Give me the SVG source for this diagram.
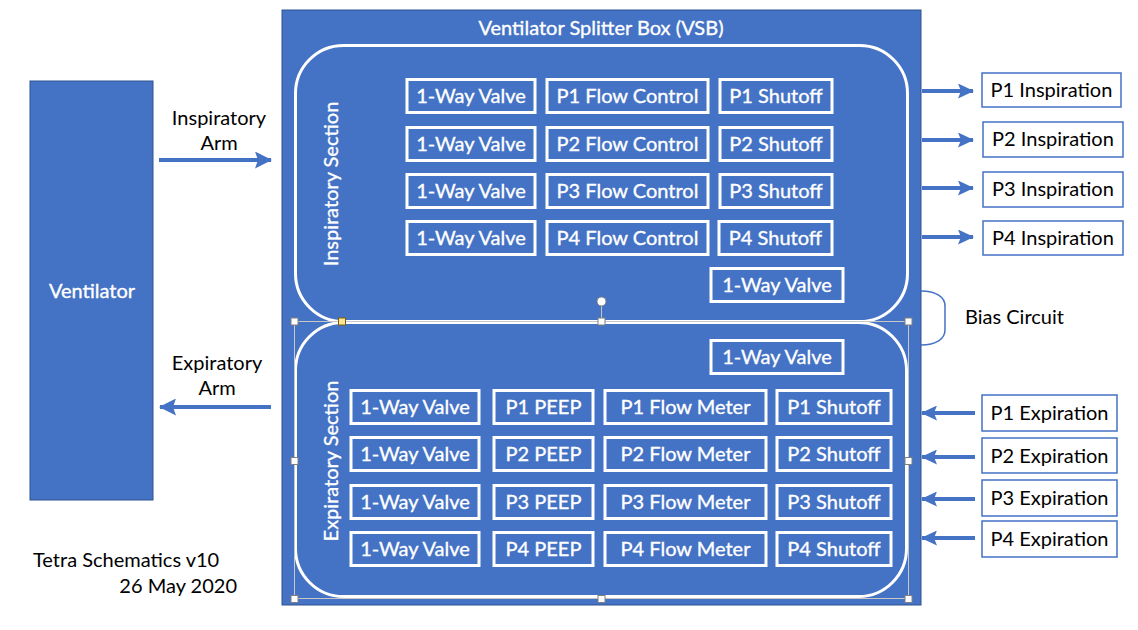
<svg xmlns="http://www.w3.org/2000/svg" width="1138" height="630" viewBox="0 0 1138 630">
<defs>
<style>
.blk{fill:#4472C4;stroke:#2F528F;stroke-width:1}
.sec{fill:none;stroke:#fff;stroke-width:3}
.cell{fill:none;stroke:#fff;stroke-width:3}
.wt{font-family:Lato,"Liberation Sans",sans-serif;font-size:20px;fill:#fff;stroke:#fff;stroke-width:0.35;text-anchor:middle}
.bt{font-family:Lato,"Liberation Sans",sans-serif;font-size:20px;fill:#000;text-anchor:middle}
.port{fill:#fff;stroke:#4472C4;stroke-width:1.5}
.arr{stroke:#4472C4;stroke-width:4;fill:none}
.sel{fill:none;stroke:#c8c8c8;stroke-width:1}
.h{fill:#fff;stroke:#7f7f7f;stroke-width:1}
</style>
<marker id="ah" markerUnits="userSpaceOnUse" markerWidth="17" markerHeight="17" refX="16" refY="8.5" orient="auto">
<path d="M0,0 L17,8.5 L0,17 L3,8.5 z" fill="#4472C4"/>
</marker>
<marker id="ahs" markerUnits="userSpaceOnUse" markerWidth="16" markerHeight="15" refX="15" refY="7.5" orient="auto">
<path d="M0,0 L16,7.5 L0,15 L3,7.5 z" fill="#4472C4"/>
</marker>
</defs>
<rect width="1138" height="630" fill="#fff"/>

<g id="ventilator">
<rect class="blk" x="30" y="81" width="123" height="419"/>
<text class="wt" x="92" y="298">Ventilator</text>
</g>

<g id="vsb">
<rect class="blk" x="282" y="10" width="639" height="595"/>
<text class="wt" x="601" y="35">Ventilator Splitter Box (VSB)</text>
</g>

<g id="inspiratory-section">
<rect class="sec" x="295.5" y="45.5" width="612" height="276" rx="48"/>
<text class="wt" transform="translate(338,184) rotate(-90)">Inspiratory Section</text>
<rect class="cell" x="407" y="79.5" width="128" height="33"/><text class="wt" x="471" y="103">1-Way Valve</text>
<rect class="cell" x="547" y="79.5" width="161" height="33"/><text class="wt" x="627.5" y="103">P1 Flow Control</text>
<rect class="cell" x="720" y="79.5" width="112" height="33"/><text class="wt" x="776" y="103">P1 Shutoff</text>
<rect class="cell" x="407" y="127.5" width="128" height="33"/><text class="wt" x="471" y="151">1-Way Valve</text>
<rect class="cell" x="547" y="127.5" width="161" height="33"/><text class="wt" x="627.5" y="151">P2 Flow Control</text>
<rect class="cell" x="720" y="127.5" width="112" height="33"/><text class="wt" x="776" y="151">P2 Shutoff</text>
<rect class="cell" x="407" y="174.5" width="128" height="33"/><text class="wt" x="471" y="198">1-Way Valve</text>
<rect class="cell" x="547" y="174.5" width="161" height="33"/><text class="wt" x="627.5" y="198">P3 Flow Control</text>
<rect class="cell" x="720" y="174.5" width="112" height="33"/><text class="wt" x="776" y="198">P3 Shutoff</text>
<rect class="cell" x="407" y="221.5" width="128" height="33"/><text class="wt" x="471" y="245">1-Way Valve</text>
<rect class="cell" x="547" y="221.5" width="161" height="33"/><text class="wt" x="627.5" y="245">P4 Flow Control</text>
<rect class="cell" x="719" y="221.5" width="113" height="33"/><text class="wt" x="775.5" y="245">P4 Shutoff</text>
<rect class="cell" x="711" y="268.5" width="132" height="33"/><text class="wt" x="777" y="292">1-Way Valve</text>
</g>

<g id="expiratory-section">
<rect class="sec" x="295.5" y="322.5" width="611" height="274" rx="48"/>
<text class="wt" transform="translate(338,461) rotate(-90)">Expiratory Section</text>
<rect class="cell" x="711" y="340.5" width="132" height="33"/><text class="wt" x="777" y="364">1-Way Valve</text>
<rect class="cell" x="351" y="390.5" width="128" height="33"/><text class="wt" x="415" y="414">1-Way Valve</text>
<rect class="cell" x="494" y="390.5" width="99" height="33"/><text class="wt" x="543.5" y="414">P1 PEEP</text>
<rect class="cell" x="605" y="390.5" width="161" height="33"/><text class="wt" x="685.5" y="414">P1 Flow Meter</text>
<rect class="cell" x="777" y="390.5" width="114" height="33"/><text class="wt" x="834" y="414">P1 Shutoff</text>
<rect class="cell" x="351" y="437.5" width="128" height="33"/><text class="wt" x="415" y="461">1-Way Valve</text>
<rect class="cell" x="494" y="437.5" width="99" height="33"/><text class="wt" x="543.5" y="461">P2 PEEP</text>
<rect class="cell" x="605" y="437.5" width="161" height="33"/><text class="wt" x="685.5" y="461">P2 Flow Meter</text>
<rect class="cell" x="777" y="437.5" width="114" height="33"/><text class="wt" x="834" y="461">P2 Shutoff</text>
<rect class="cell" x="351" y="485.5" width="128" height="33"/><text class="wt" x="415" y="509">1-Way Valve</text>
<rect class="cell" x="494" y="485.5" width="99" height="33"/><text class="wt" x="543.5" y="509">P3 PEEP</text>
<rect class="cell" x="605" y="485.5" width="161" height="33"/><text class="wt" x="685.5" y="509">P3 Flow Meter</text>
<rect class="cell" x="777" y="485.5" width="114" height="33"/><text class="wt" x="834" y="509">P3 Shutoff</text>
<rect class="cell" x="351" y="532.5" width="128" height="33"/><text class="wt" x="415" y="556">1-Way Valve</text>
<rect class="cell" x="494" y="532.5" width="99" height="33"/><text class="wt" x="543.5" y="556">P4 PEEP</text>
<rect class="cell" x="605" y="532.5" width="161" height="33"/><text class="wt" x="685.5" y="556">P4 Flow Meter</text>
<rect class="cell" x="777" y="532.5" width="114" height="33"/><text class="wt" x="834" y="556">P4 Shutoff</text>
</g>

<g id="selection">
<rect class="sel" x="294.5" y="321.5" width="614" height="277"/>
<line x1="601.5" y1="306" x2="601.5" y2="321" stroke="#c8c8c8" stroke-width="1"/>
<circle cx="601.5" cy="301.5" r="4.5" fill="#fff" stroke="#7f7f7f" stroke-width="1"/>
<rect class="h" x="291" y="318" width="7" height="7"/>
<rect class="h" x="598" y="318" width="7" height="7"/>
<rect class="h" x="905" y="318" width="7" height="7"/>
<rect class="h" x="291" y="457.5" width="7" height="7"/>
<rect class="h" x="905" y="457.5" width="7" height="7"/>
<rect class="h" x="291" y="595.5" width="7" height="7"/>
<rect class="h" x="598" y="595.5" width="7" height="7"/>
<rect class="h" x="905" y="595.5" width="7" height="7"/>
<rect x="338.5" y="318" width="7" height="7" fill="#ffe599" stroke="#7f6000" stroke-width="1"/>
</g>

<g id="labels">
<text class="bt" x="219" y="125">Inspiratory</text>
<text class="bt" x="219" y="150">Arm</text>
<text class="bt" x="217" y="370">Expiratory</text>
<text class="bt" x="217" y="395">Arm</text>
<text class="bt" x="33" y="567" style="text-anchor:start">Tetra Schematics v10</text>
<text class="bt" x="237" y="593" style="text-anchor:end">26 May 2020</text>
<text class="bt" x="965" y="324" style="text-anchor:start">Bias Circuit</text>
</g>

<g id="ports">
<g id="p1-insp"><rect class="port" x="982" y="73" width="139" height="34"/><text class="bt" x="1051.5" y="97">P1 Inspiration</text></g>
<g id="p2-insp"><rect class="port" x="983" y="122" width="140" height="35"/><text class="bt" x="1053" y="146">P2 Inspiration</text></g>
<g id="p3-insp"><rect class="port" x="983" y="172" width="140" height="35"/><text class="bt" x="1053" y="196">P3 Inspiration</text></g>
<g id="p4-insp"><rect class="port" x="983" y="221" width="140" height="34"/><text class="bt" x="1053" y="245">P4 Inspiration</text></g>
<g id="p1-exp"><rect class="port" x="982" y="395" width="135" height="36"/><text class="bt" x="1049.5" y="420">P1 Expiration</text></g>
<g id="p2-exp"><rect class="port" x="982" y="438" width="135" height="35"/><text class="bt" x="1049.5" y="463">P2 Expiration</text></g>
<g id="p3-exp"><rect class="port" x="982" y="480" width="135" height="36"/><text class="bt" x="1049.5" y="505">P3 Expiration</text></g>
<g id="p4-exp"><rect class="port" x="982" y="521" width="135" height="36"/><text class="bt" x="1049.5" y="546">P4 Expiration</text></g>
</g>

<g id="connectors">
<line class="arr" x1="159" y1="160" x2="271" y2="160" marker-end="url(#ah)"/>
<line class="arr" x1="271" y1="407" x2="160" y2="407" marker-end="url(#ah)"/>
<line class="arr" x1="922" y1="91" x2="973" y2="91" marker-end="url(#ahs)"/>
<line class="arr" x1="922" y1="140" x2="973" y2="140" marker-end="url(#ahs)"/>
<line class="arr" x1="922" y1="188" x2="973" y2="188" marker-end="url(#ahs)"/>
<line class="arr" x1="922" y1="237" x2="973" y2="237" marker-end="url(#ahs)"/>
<line class="arr" x1="975" y1="413" x2="922" y2="413" marker-end="url(#ahs)"/>
<line class="arr" x1="975" y1="457" x2="922" y2="457" marker-end="url(#ahs)"/>
<line class="arr" x1="975" y1="499" x2="922" y2="499" marker-end="url(#ahs)"/>
<line class="arr" x1="975" y1="538" x2="922" y2="538" marker-end="url(#ahs)"/>
<path d="M921,291 C936,291 945,297 945,306 L945,330 C945,339 936,345 921,345" fill="none" stroke="#4472C4" stroke-width="1.5"/>
</g>
</svg>
